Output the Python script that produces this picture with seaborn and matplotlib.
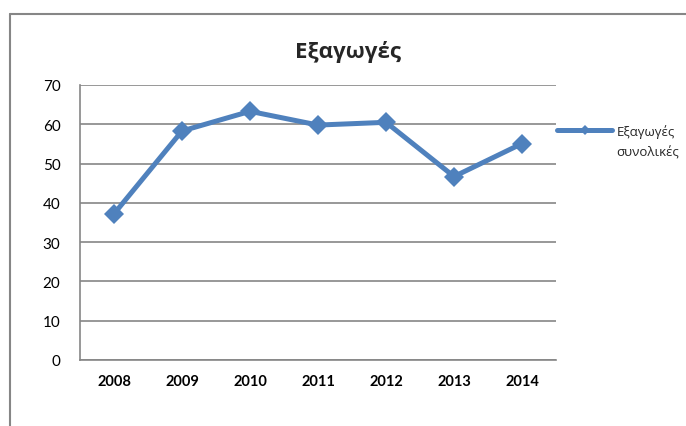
import seaborn as sns
import matplotlib.pyplot as plt
import pandas as pd
from matplotlib.lines import Line2D

years = ["2008", "2009", "2010", "2011", "2012", "2013", "2014"]
exports = [37.2, 58.3, 63.3, 59.8, 60.5, 46.7, 55.1]
series_name = ["Εξαγωγές", "συνολικές"]
title = "Εξαγωγές"

df = pd.DataFrame({"year": years, "value": exports})

sns.set_style("white")
plt.rcParams["font.family"] = ["Lato", "DejaVu Sans"]
greek_font = ["Open Sans", "DejaVu Sans"]

blue = "#4F81BD"
grey = "#868686"

fig = plt.figure(figsize=(6.86, 4.27), dpi=100)
ax = fig.add_axes([0.1166, 0.1546, 0.694, 0.644])

sns.lineplot(data=df, x="year", y="value", ax=ax, color=blue, linewidth=3.6,
             marker="D", markersize=10.5, markeredgewidth=0, sort=False)

ax.set_xlim(-0.5, len(years) - 0.5)
ax.set_ylim(0, 70)
ax.set_yticks(range(0, 71, 10))
ax.set_xlabel("")
ax.set_ylabel("")
ax.grid(axis="y", color=grey, linewidth=1.2)
ax.set_axisbelow(True)
for s in ["top", "right"]:
    ax.spines[s].set_visible(False)
for s in ["left", "bottom"]:
    ax.spines[s].set_color(grey)
    ax.spines[s].set_linewidth(1.2)
ax.tick_params(length=0, labelsize=11, colors="black")
ax.tick_params(axis="y", pad=14)
ax.tick_params(axis="x", pad=10)
for lbl in ax.get_xticklabels():
    lbl.set_fontweight("bold")
    lbl.set_fontsize(10.5)

fig.text(0.508, 0.878, title, ha="center", va="center", fontsize=16,
         fontweight="bold", family=greek_font)

# legend: handle + first line, second line of the label under it
handle = Line2D([], [], color=blue, linewidth=3.6, marker="D", markersize=5, markeredgewidth=0)
leg = ax.legend(handles=[handle], labels=[series_name[0]], loc="center left",
                bbox_to_anchor=(0.812, 0.691), bbox_transform=fig.transFigure,
                frameon=False, handlelength=4.2, handletextpad=0.3,
                borderaxespad=0, borderpad=0, prop={"family": greek_font, "size": 9.5})
fig.text(0.899, 0.642, series_name[1], ha="left", va="center", fontsize=9.5, family=greek_font)

# chart area border
fig.add_artist(Line2D([0.0146, 1.0], [0.966, 0.966], transform=fig.transFigure, color=grey, linewidth=1.5))
fig.add_artist(Line2D([0.0146, 0.0146], [0.0, 0.966], transform=fig.transFigure, color=grey, linewidth=1.5))

fig.savefig("out.png", dpi=100)
